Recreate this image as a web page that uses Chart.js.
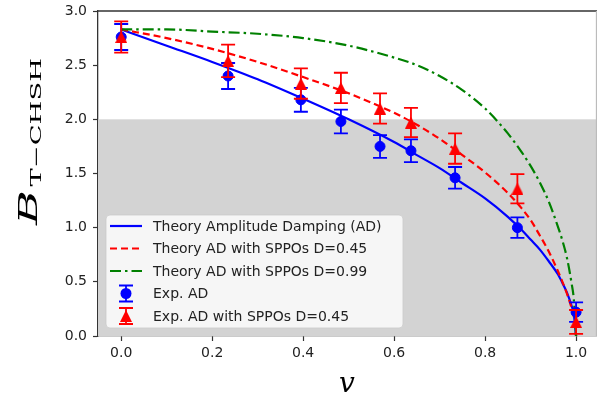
<!DOCTYPE html>
<html>
<head>
<meta charset="utf-8">
<script src="https://cdn.jsdelivr.net/npm/chart.js@4/dist/chart.umd.min.js"></script>
<style>
  html, body { margin: 0; padding: 0; background: #fff; }
  canvas { display: block; }
</style>
</head>
<body>
<canvas id="chart" width="597" height="404"></canvas>
<script>
// theory curves, values
const theoryV = [0, 0.1, 0.2, 0.3, 0.4, 0.5, 0.6, 0.65, 0.7, 0.75, 0.8, 0.85, 0.88, 0.9, 0.92, 0.94, 0.96, 0.97, 0.98, 0.99, 0.995, 1.0];
const theoryAD = [2.83, 2.68, 2.53, 2.37, 2.19, 2.00, 1.79, 1.67, 1.55, 1.41, 1.27, 1.10, 0.98, 0.89, 0.80, 0.69, 0.57, 0.49, 0.40, 0.28, 0.20, 0];
const theorySppo45 = [2.83, 2.75, 2.65, 2.53, 2.39, 2.24, 2.06, 1.95, 1.82, 1.67, 1.51, 1.32, 1.18, 1.07, 0.93, 0.78, 0.60, 0.50, 0.39, 0.26, 0.18, 0];
const theorySppo99 = [2.83, 2.83, 2.81, 2.79, 2.75, 2.68, 2.57, 2.50, 2.40, 2.27, 2.10, 1.87, 1.70, 1.57, 1.42, 1.24, 1.01, 0.88, 0.72, 0.49, 0.34, 0];

// experimental points
const expV = [0.0, 0.235, 0.395, 0.483, 0.569, 0.637, 0.734, 0.871, 1.0];
const expAD = [2.76, 2.40, 2.18, 1.98, 1.75, 1.71, 1.46, 1.00, 0.22];
const expADErr = [0.12, 0.12, 0.11, 0.11, 0.105, 0.105, 0.10, 0.095, 0.09];
const expSppo = [2.76, 2.54, 2.33, 2.29, 2.10, 1.97, 1.73, 1.36, 0.13];
const expSppoErr = [0.145, 0.15, 0.14, 0.14, 0.14, 0.135, 0.14, 0.135, 0.11];

const xTicks = [0, 0.2, 0.4, 0.6, 0.8, 1.0];
const yTicks = [0, 0.5, 1.0, 1.5, 2.0, 2.5, 3.0];
const classicalBound = 2.0;

const BLUE = "#0000ff", RED = "#ff0000", GREEN = "#008000";
const TEXT = "#222222", AXIS = "#333333";

function pts(xs, ys) {
  return xs.map((x, i) => ({ x: x, y: ys[i] }));
}

// matplotlib style "^" marker
function triangleMarker(size, color) {
  const c = document.createElement("canvas");
  c.width = size; c.height = size;
  const g = c.getContext("2d");
  g.fillStyle = color;
  g.beginPath();
  g.moveTo(size / 2, 0);
  g.lineTo(size, size);
  g.lineTo(0, size);
  g.closePath();
  g.fill();
  return c;
}
const redTriangle = triangleMarker(12, RED);

const errorBars = {
  id: "errorBars",
  beforeDatasetDraw(chart, args) {
    const ds = chart.data.datasets[args.index];
    if (!ds.errors) return;
    const xs = chart.scales.x, ys = chart.scales.y, ctx = chart.ctx;
    ctx.save();
    ctx.strokeStyle = ds.borderColor;
    ctx.lineWidth = 1.8;
    ds.data.forEach((p, i) => {
      const px = xs.getPixelForValue(p.x);
      const top = ys.getPixelForValue(p.y + ds.errors[i]);
      const bot = ys.getPixelForValue(p.y - ds.errors[i]);
      ctx.beginPath();
      ctx.moveTo(px, top); ctx.lineTo(px, bot);
      ctx.moveTo(px - 7, top); ctx.lineTo(px + 7, top);
      ctx.moveTo(px - 7, bot); ctx.lineTo(px + 7, bot);
      ctx.stroke();
    });
    ctx.restore();
  }
};

const shading = {
  id: "shading",
  beforeDatasetsDraw(chart) {
    const a = chart.chartArea, ys = chart.scales.y, ctx = chart.ctx;
    const top = ys.getPixelForValue(classicalBound);
    const bot = ys.getPixelForValue(0);
    ctx.save();
    ctx.fillStyle = "#d3d3d3";
    ctx.fillRect(a.left, top, a.right - a.left, bot - top);
    ctx.restore();
  }
};

const legendEntries = [
  { label: "Theory Amplitude Damping (AD)", color: BLUE, dash: [] },
  { label: "Theory AD with SPPOs D=0.45", color: RED, dash: [7, 4] },
  { label: "Theory AD with SPPOs D=0.99", color: GREEN, dash: [11, 4, 2.5, 4] },
  { label: "Exp. AD", color: BLUE, marker: "circle" },
  { label: "Exp. AD with SPPOs D=0.45", color: RED, marker: "triangle" }
];

const boxLegend = {
  id: "boxLegend",
  afterDraw(chart) {
    const ctx = chart.ctx;
    const bx = 106, by = 215, bw = 297, bh = 113;
    ctx.save();
    ctx.beginPath();
    ctx.roundRect(bx, by, bw, bh, 4);
    ctx.fillStyle = "rgba(255,255,255,0.8)";
    ctx.fill();
    ctx.strokeStyle = "rgba(204,204,204,0.8)";
    ctx.lineWidth = 1;
    ctx.stroke();
    ctx.font = "14px 'DejaVu Sans'";
    ctx.textBaseline = "middle";
    legendEntries.forEach((e, i) => {
      const y = 226 + i * 22.5;
      if (e.marker) {
        const cx = 126;
        ctx.strokeStyle = e.color;
        ctx.lineWidth = 1.8;
        ctx.setLineDash([]);
        ctx.beginPath();
        ctx.moveTo(cx, y - 8); ctx.lineTo(cx, y + 8);
        ctx.moveTo(cx - 7, y - 8); ctx.lineTo(cx + 7, y - 8);
        ctx.moveTo(cx - 7, y + 8); ctx.lineTo(cx + 7, y + 8);
        ctx.stroke();
        if (e.marker === "circle") {
          ctx.fillStyle = e.color;
          ctx.beginPath();
          ctx.arc(cx, y, 5.5, 0, Math.PI * 2);
          ctx.fill();
        } else {
          ctx.drawImage(redTriangle, cx - 6, y - 6);
        }
      } else {
        ctx.strokeStyle = e.color;
        ctx.lineWidth = 2.2;
        ctx.setLineDash(e.dash);
        ctx.beginPath();
        ctx.moveTo(110, y); ctx.lineTo(142, y);
        ctx.stroke();
        ctx.setLineDash([]);
      }
      ctx.fillStyle = TEXT;
      ctx.fillText(e.label, 153, y + 1);
    });
    ctx.restore();
  }
};

const frameAndTitles = {
  id: "frameAndTitles",
  afterDraw(chart) {
    const a = chart.chartArea, ctx = chart.ctx;
    ctx.save();
    ctx.strokeStyle = AXIS;
    ctx.lineWidth = 1.3;
    ctx.beginPath();
    ctx.moveTo(a.left, a.top); ctx.lineTo(a.right, a.top);
    ctx.stroke();
    ctx.strokeStyle = "#bbbbbb";
    ctx.beginPath();
    ctx.moveTo(596.5, a.top); ctx.lineTo(596.5, a.bottom);
    ctx.stroke();

    // y label B_{T-CHSH}
    ctx.fillStyle = "#000";
    ctx.translate(37, 225);
    ctx.rotate(-Math.PI / 2);
    ctx.textBaseline = "alphabetic";
    ctx.font = "italic 26px 'DejaVu Serif'";
    const wB = ctx.measureText("B").width;
    ctx.font = "15px 'DejaVu Serif'";
    const wS = ctx.measureText("T\u2212CHSH").width;
    const stretch = 167 / (wB + 2 + wS);
    ctx.scale(stretch, 1);
    ctx.font = "italic 26px 'DejaVu Serif'";
    ctx.fillText("B", 0, 0);
    ctx.font = "15px 'DejaVu Serif'";
    ctx.fillText("T\u2212CHSH", wB + 2, 4);
    ctx.restore();

    // x label v
    ctx.save();
    ctx.fillStyle = "#000";
    ctx.font = "italic 28px 'DejaVu Serif'";
    ctx.textAlign = "center";
    ctx.textBaseline = "alphabetic";
    ctx.fillText("v", 347, 392);
    ctx.restore();
  }
};

new Chart(document.getElementById("chart"), {
  type: "scatter",
  data: {
    datasets: [
      {
        label: "Theory Amplitude Damping (AD)",
        data: pts(theoryV, theoryAD),
        showLine: true, borderColor: BLUE, borderWidth: 2.2,
        pointRadius: 0, cubicInterpolationMode: "monotone", order: 5
      },
      {
        label: "Theory AD with SPPOs D=0.45",
        data: pts(theoryV, theorySppo45),
        showLine: true, borderColor: RED, borderWidth: 2.2, borderDash: [7, 4],
        pointRadius: 0, cubicInterpolationMode: "monotone", order: 4
      },
      {
        label: "Theory AD with SPPOs D=0.99",
        data: pts(theoryV, theorySppo99),
        showLine: true, borderColor: GREEN, borderWidth: 2.2, borderDash: [11, 4, 2.5, 4],
        pointRadius: 0, cubicInterpolationMode: "monotone", order: 3
      },
      {
        label: "Exp. AD",
        data: pts(expV, expAD), errors: expADErr,
        borderColor: BLUE, backgroundColor: BLUE,
        pointStyle: "circle", pointRadius: 5, pointBorderWidth: 1, order: 2
      },
      {
        label: "Exp. AD with SPPOs D=0.45",
        data: pts(expV, expSppo), errors: expSppoErr,
        borderColor: RED, backgroundColor: RED,
        pointStyle: redTriangle, pointRadius: 6, order: 1
      }
    ]
  },
  options: {
    responsive: false,
    animation: false,
    devicePixelRatio: 1,
    layout: { autoPadding: false, padding: { top: 11, right: 0, left: 0, bottom: 0 } },
    plugins: { legend: { display: false }, tooltip: { enabled: false } },
    scales: {
      x: {
        type: "linear", min: -0.051, max: 1.046,
        afterBuildTicks(scale) { scale.ticks = xTicks.map(v => ({ value: v })); },
        afterFit(scale) {
          scale.height = 68;
          scale.paddingLeft = 0;
          scale.paddingRight = 0;
        },
        ticks: {
          callback: v => v.toFixed(1),
          font: { family: "DejaVu Sans", size: 14 }, color: TEXT, padding: 4,
          maxRotation: 0
        },
        grid: { drawOnChartArea: false, tickLength: 5, tickColor: AXIS, tickWidth: 1.2 },
        border: { color: AXIS, width: 1.3 }
      },
      y: {
        type: "linear", min: 0, max: 3,
        afterBuildTicks(scale) { scale.ticks = yTicks.map(v => ({ value: v })); },
        afterFit(scale) {
          scale.width = 98;
          scale.paddingTop = 0;
          scale.paddingBottom = 0;
        },
        ticks: {
          callback: v => v.toFixed(1),
          font: { family: "DejaVu Sans", size: 14 }, color: TEXT, padding: 6
        },
        grid: { drawOnChartArea: false, tickLength: 5, tickColor: AXIS, tickWidth: 1.2 },
        border: { color: AXIS, width: 1.3 }
      }
    }
  },
  plugins: [shading, errorBars, boxLegend, frameAndTitles]
});
</script>
</body>
</html>
